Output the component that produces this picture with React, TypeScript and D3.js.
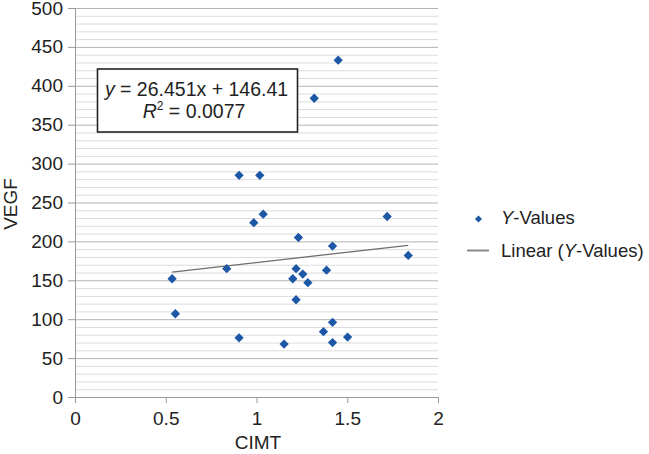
import React, { useRef, useEffect } from "react";
import * as d3 from "d3";

const cimt = [
  1.45, 1.318, 0.904, 1.018, 1.037, 0.985, 1.231, 1.419, 1.72, 1.836, 0.836,
  0.535, 1.218, 1.2, 1.255, 1.283, 1.386, 1.218, 0.553, 1.419, 1.369, 1.502,
  0.904, 1.419, 1.152,
];
const vegf = [
  433, 384, 285, 285, 235, 224, 205, 194, 232, 182, 165, 152, 165, 152, 158,
  147, 163, 125, 107, 96, 84, 77, 76, 70, 68,
];
const xTicks = [0, 0.5, 1, 1.5, 2];
const yTicks = [0, 50, 100, 150, 200, 250, 300, 350, 400, 450, 500];
const slope = 26.451;
const intercept = 146.41;
const legendLabels = ["Y-Values", "Linear (Y-Values)"];

function App() {
  const canvas = useRef(null);

  function drawChart() {
    const [width, height] = [649, 454];
    const font = "'Liberation Sans', Arial, Helvetica, sans-serif";
    const blue = "#1c58a6";
    const fs = 19;

    const x = d3.scaleLinear().domain([0, 2]).range([75, 438]);
    const y = d3.scaleLinear().domain([0, 500]).range([397, 8]);

    d3.select(canvas.current).selectAll("*").remove();
    const svg = d3
      .select(canvas.current)
      .append("svg")
      .attr("width", width)
      .attr("height", height)
      .attr("viewBox", [0, 0, width, height])
      .style("display", "block")
      .style("font-family", font);

    svg.append("rect").attr("width", width).attr("height", height).attr("fill", "#fff");

    // minor grid every 10, major every 50
    const minor = d3.range(10, 500, 10).filter((d) => d % 50 !== 0);
    svg
      .append("g")
      .selectAll("line")
      .data(minor)
      .join("line")
      .attr("x1", x(0))
      .attr("x2", x(2))
      .attr("y1", (d) => y(d) + 0.5)
      .attr("y2", (d) => y(d) + 0.5)
      .attr("stroke", "#dcdcdc");

    svg
      .append("g")
      .selectAll("line")
      .data(yTicks.filter((d) => d > 0))
      .join("line")
      .attr("x1", x(0))
      .attr("x2", x(2))
      .attr("y1", (d) => y(d) + 0.5)
      .attr("y2", (d) => y(d) + 0.5)
      .attr("stroke", "#b4b4b4");

    // y axis
    const gy = svg
      .append("g")
      .attr("transform", `translate(${x(0)},0)`)
      .call(d3.axisLeft(y).tickValues(yTicks).tickSize(7).tickPadding(5).tickFormat(d3.format("d")));
    gy.select(".domain").attr("stroke", "#9a9a9a");
    gy.selectAll(".tick line").attr("stroke", "#9a9a9a");
    gy.selectAll("text").attr("font-size", fs).attr("fill", "#222").attr("font-family", font);

    // x axis
    const gx = svg
      .append("g")
      .attr("transform", `translate(0,${y(0)})`)
      .call(d3.axisBottom(x).tickValues(xTicks).tickSize(6).tickPadding(9).tickFormat((d) => String(d)));
    gx.select(".domain").attr("stroke", "#9a9a9a");
    gx.selectAll(".tick line").attr("stroke", "#9a9a9a");
    gx.selectAll("text").attr("font-size", fs).attr("fill", "#222").attr("font-family", font);

    // trend line
    const [xmin, xmax] = d3.extent(cimt);
    svg
      .append("line")
      .attr("x1", x(xmin))
      .attr("y1", y(slope * xmin + intercept))
      .attr("x2", x(xmax))
      .attr("y2", y(slope * xmax + intercept))
      .attr("stroke", "#6e6e6e")
      .attr("stroke-width", 1.3);

    // points
    const diamond = d3.symbol().type(d3.symbolDiamond2).size(55);
    svg
      .append("g")
      .selectAll("path")
      .data(cimt.map((c, i) => [c, vegf[i]]))
      .join("path")
      .attr("d", diamond)
      .attr("transform", (d) => `translate(${x(d[0])},${y(d[1])})`)
      .attr("fill", blue);

    // equation box
    const box = svg.append("g");
    box
      .append("rect")
      .attr("x", 97.5)
      .attr("y", 69)
      .attr("width", 200)
      .attr("height", 63)
      .attr("fill", "#fff")
      .attr("stroke", "#222")
      .attr("stroke-width", 1.6);
    const eq = box
      .append("text")
      .attr("x", 196.5)
      .attr("y", 96)
      .attr("text-anchor", "middle")
      .attr("font-size", 19.5)
      .attr("fill", "#222");
    eq.append("tspan").attr("font-style", "italic").text("y");
    eq.append("tspan").text(` = ${slope}x + ${intercept}`);
    const r2 = box
      .append("text")
      .attr("x", 194)
      .attr("y", 118)
      .attr("text-anchor", "middle")
      .attr("font-size", 19.5)
      .attr("fill", "#222");
    r2.append("tspan").attr("font-style", "italic").text("R");
    r2.append("tspan").attr("font-size", 12).attr("dy", -8).text("2");
    r2.append("tspan").attr("dy", 8).text(" = 0.0077");

    // axis titles
    svg
      .append("text")
      .attr("transform", `translate(17,204) rotate(-90)`)
      .attr("text-anchor", "middle")
      .attr("font-size", fs)
      .attr("fill", "#222")
      .text("VEGF");
    svg
      .append("text")
      .attr("x", 258)
      .attr("y", 449)
      .attr("text-anchor", "middle")
      .attr("font-size", fs)
      .attr("fill", "#222")
      .text("CIMT");

    // legend
    const lg = svg.append("g").attr("font-size", 18.5).attr("fill", "#222");
    lg.append("path")
      .attr("d", d3.symbol().type(d3.symbolDiamond2).size(32))
      .attr("transform", "translate(478.5,219)")
      .attr("fill", blue);
    legendLabels.forEach((label, i) => {
      const t = lg
        .append("text")
        .attr("x", 501)
        .attr("y", 224 + i * 33);
      const [pre, post] = label.split("Y");
      t.append("tspan").text(pre);
      t.append("tspan").attr("font-style", "italic").text("Y");
      t.append("tspan").text(post);
    });
    lg.append("line")
      .attr("x1", 467)
      .attr("x2", 489)
      .attr("y1", 250.5)
      .attr("y2", 250.5)
      .attr("stroke", "#8a8a8a")
      .attr("stroke-width", 2);
  }

  useEffect(() => {
    document.body.style.margin = "0";
    drawChart();
  }, []);

  return <div ref={canvas} />;
}

export default App;
